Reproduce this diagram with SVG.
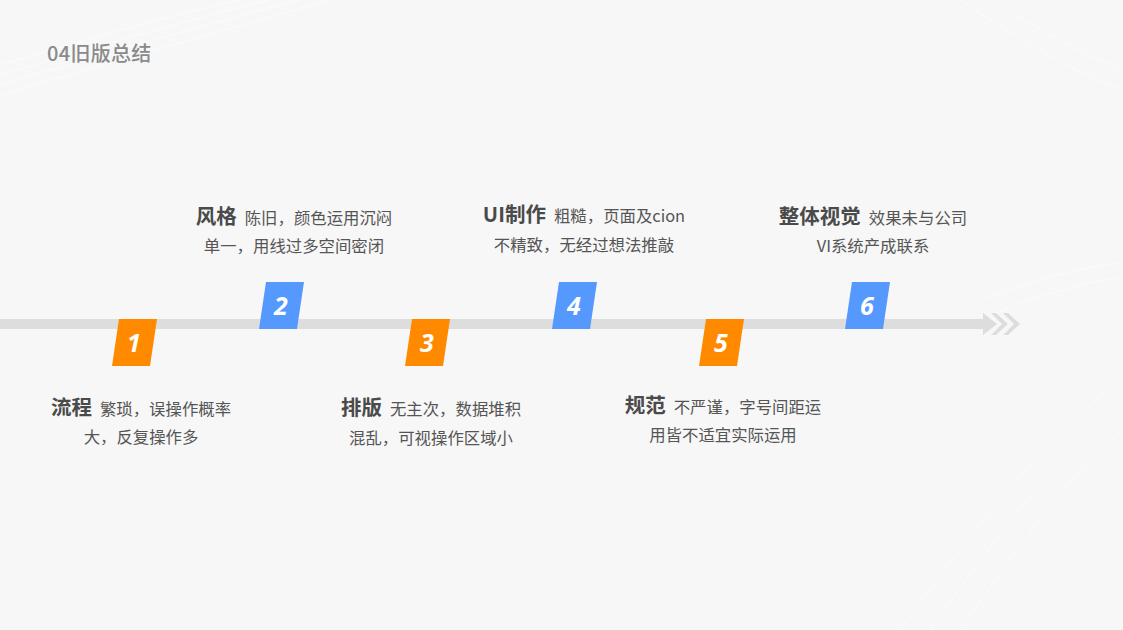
<svg xmlns="http://www.w3.org/2000/svg" width="1123" height="630" viewBox="0 0 1123 630">
<defs>
<style>
.bg{fill:#f7f7f7}
.curve{fill:none;stroke:#ffffff;stroke-width:1;opacity:0.55}
.bar{fill:#dddddd}
.orange{fill:#ff8a00}
.blue{fill:#5599ff}
.num{font-family:"Open Sans","Liberation Sans",sans-serif;font-style:italic;font-weight:bold;font-size:25px;fill:#ffffff;text-anchor:middle}
.lbl{font-family:"Noto Sans CJK SC","Noto Sans",sans-serif;font-size:16.4px;fill:#555555;text-anchor:middle}
.ttl{font-size:20.5px;font-weight:bold;fill:#4a4a4a}
.hdr{font-family:"Noto Sans CJK SC","Noto Sans",sans-serif;font-size:20px;font-weight:500;fill:#8a8a8a;letter-spacing:0.3px}
</style>
</defs>
<rect class="bg" x="0" y="0" width="1123" height="630"/>
<g id="background">
<path class="curve" d="M0,95 C120,60 260,20 330,0"/>
<path class="curve" d="M0,85 C110,52 240,15 300,0"/>
<path class="curve" d="M0,75 C100,45 220,12 270,0"/>
<path class="curve" d="M0,65 C90,38 200,8 240,0"/>
<path class="curve" d="M900,630 C980,520 1060,420 1123,380"/>
<path class="curve" d="M930,630 C1000,530 1070,440 1123,405"/>
<path class="curve" d="M960,630 C1020,545 1080,460 1123,430"/>
<path class="curve" d="M980,300 C1030,280 1080,268 1123,262"/>
<path class="curve" d="M990,315 C1040,295 1085,282 1123,277"/>
<path class="curve" d="M960,0 C1020,40 1070,70 1123,90"/>
<path class="curve" d="M990,0 C1040,30 1085,55 1123,70"/>
</g>
<g id="connectors">
<rect class="bar" x="0" y="319" width="984" height="10"/>
<polygon class="bar" points="983,313 997,324 983,335"/>
<polygon class="bar" points="996,313 1008,324 996,335 991,335 1002,324 991,313"/>
<polygon class="bar" points="1008,313 1020,324 1008,335 1003,335 1014,324 1003,313"/>
</g>
<text class="hdr" x="47" y="61">04旧版总结</text>
<g id="node1">
<polygon class="orange" points="119,319 157,319 150,366 112,366"/>
<text class="num" x="134" y="352">1</text>
<text class="lbl" x="141" y="415"><tspan class="ttl">流程</tspan><tspan dx="8">繁琐，误操作概率</tspan></text>
<text class="lbl" x="141" y="443">大，反复操作多</text>
</g>
<g id="node2">
<polygon class="blue" points="266,282 304,282 297,329 259,329"/>
<text class="num" x="281" y="315">2</text>
<text class="lbl" x="294" y="224"><tspan class="ttl">风格</tspan><tspan dx="8">陈旧，颜色运用沉闷</tspan></text>
<text class="lbl" x="294" y="252">单一，用线过多空间密闭</text>
</g>
<g id="node3">
<polygon class="orange" points="412,319 450,319 443,366 405,366"/>
<text class="num" x="427" y="352">3</text>
<text class="lbl" x="431" y="415"><tspan class="ttl">排版</tspan><tspan dx="8">无主次，数据堆积</tspan></text>
<text class="lbl" x="431" y="444">混乱，可视操作区域小</text>
</g>
<g id="node4">
<polygon class="blue" points="559,282 597,282 590,329 552,329"/>
<text class="num" x="574" y="315">4</text>
<text class="lbl" x="584" y="222"><tspan class="ttl">UI制作</tspan><tspan dx="8">粗糙，页面及cion</tspan></text>
<text class="lbl" x="584" y="251">不精致，无经过想法推敲</text>
</g>
<g id="node5">
<polygon class="orange" points="706,319 744,319 737,366 699,366"/>
<text class="num" x="721" y="352">5</text>
<text class="lbl" x="723" y="413"><tspan class="ttl">规范</tspan><tspan dx="8">不严谨，字号间距运</tspan></text>
<text class="lbl" x="723" y="441">用皆不适宜实际运用</text>
</g>
<g id="node6">
<polygon class="blue" points="852,282 890,282 883,329 845,329"/>
<text class="num" x="867" y="315">6</text>
<text class="lbl" x="873" y="224"><tspan class="ttl">整体视觉</tspan><tspan dx="8">效果未与公司</tspan></text>
<text class="lbl" x="873" y="252">VI系统产成联系</text>
</g>
</svg>
